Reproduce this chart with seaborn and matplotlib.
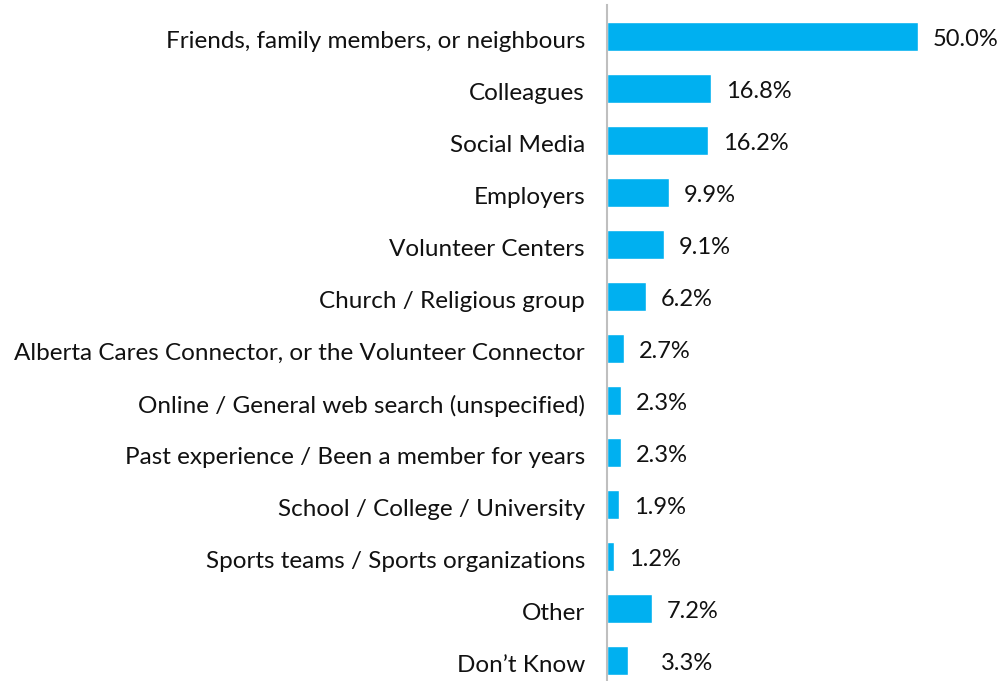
import matplotlib
matplotlib.use("Agg")
import matplotlib.pyplot as plt
import matplotlib.transforms as mtransforms
import seaborn as sns
import pandas as pd

categories = [
    "Friends, family members, or neighbours",
    "Colleagues",
    "Social Media",
    "Employers",
    "Volunteer Centers",
    "Church / Religious group",
    "Alberta Cares Connector, or the Volunteer Connector",
    "Online / General web search (unspecified)",
    "Past experience / Been a member for years",
    "School / College / University",
    "Sports teams / Sports organizations",
    "Other",
    "Don\u2019t Know",
]
values = [50.0, 16.8, 16.2, 9.9, 9.1, 6.2, 2.7, 2.3, 2.3, 1.9, 1.2, 7.2, 3.3]
value_labels = [f"{v:.1f}%" for v in values]

df = pd.DataFrame({"source": categories, "pct": values})

sns.set_theme(style="white")
plt.rcParams["font.family"] = ["Lato", "DejaVu Sans"]

fig = plt.figure(figsize=(10.02, 6.81), dpi=100)
ax = fig.add_axes([607 / 1002, 0.0, 1 - 607 / 1002, 676 / 681])

sns.barplot(data=df, x="pct", y="source", orient="h", color="#00B0F0",
            width=0.56, saturation=1, ax=ax)

ax.set_xlim(0, (1002 - 607) / 6.22)
ax.set_ylim(12.394, -0.606)
ax.set_xlabel("")
ax.set_ylabel("")
ax.set_xticks([])
ax.tick_params(axis="y", length=0, pad=15.8, labelsize=17.5, labelcolor="#111111")

# nudge category labels slightly downward
shift = mtransforms.ScaledTranslation(0, -3 / 100, fig.dpi_scale_trans)
for lbl in ax.get_yticklabels():
    lbl.set_transform(lbl.get_transform() + shift)

for s in ["top", "right", "bottom"]:
    ax.spines[s].set_visible(False)
ax.spines["left"].set_color("#BFBFBF")
ax.spines["left"].set_linewidth(1.5)

for i, (v, lab) in enumerate(zip(values, value_labels)):
    extra = 3.0 if i == len(values) - 1 else 0.0
    ax.text(v + 2.4 + extra, i + 0.05, lab, va="center", ha="left",
            fontsize=17, color="#111111")

fig.savefig("out.png", dpi=100)
